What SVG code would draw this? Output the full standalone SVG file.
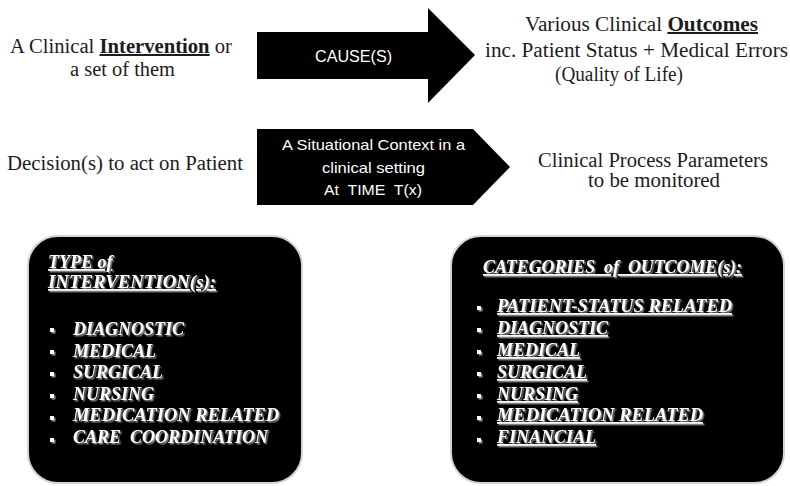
<svg xmlns="http://www.w3.org/2000/svg" width="790" height="486" viewBox="0 0 790 486">
  <defs>
    <filter id="glow" x="-5%" y="-20%" width="115%" height="160%">
      <feDropShadow dx="1.5" dy="1.5" stdDeviation="0.6" flood-color="#8a8a8a" flood-opacity="1"/>
    </filter>
    <filter id="soft" x="-5%" y="-5%" width="110%" height="110%">
      <feGaussianBlur stdDeviation="0.4"/>
    </filter>
  </defs>
  <style>
    .serif { font-size: 20px; fill: #1c1c1c; }
    .sans { fill: #ffffff; }
    .shape { fill: #000000; }
    .panel { fill: #000000; stroke: #d4d4d4; stroke-width: 2; }
    .item { font-size: 18px; font-weight: bold; font-style: italic; fill: #ffffff; }
    .ul { text-decoration: underline; }
    .dot { fill: #ffffff; }
  </style>
  <rect width="790" height="486" fill="#ffffff"/>

  <g font-family="'Liberation Serif', 'DejaVu Serif', serif">
    <!-- row 1: intervention -> outcomes -->
    <g id="intervention">
      <text class="serif" x="121" y="53" text-anchor="middle" textLength="222" lengthAdjust="spacingAndGlyphs">A Clinical <tspan font-weight="bold" class="ul">Intervention</tspan> or</text>
      <text class="serif" x="122.5" y="76" text-anchor="middle" textLength="105" lengthAdjust="spacingAndGlyphs">a set of them</text>
    </g>

    <g id="outcomes">
      <text class="serif" x="641.5" y="31" text-anchor="middle" textLength="233" lengthAdjust="spacingAndGlyphs">Various Clinical <tspan font-weight="bold" class="ul">Outcomes</tspan></text>
      <text class="serif" x="636.5" y="57" text-anchor="middle" textLength="303" lengthAdjust="spacingAndGlyphs">inc. Patient Status + Medical Errors</text>
      <text class="serif" x="619" y="81" text-anchor="middle" textLength="128" lengthAdjust="spacingAndGlyphs">(Quality of Life)</text>
    </g>

    <!-- row 2: decision -> process parameters -->
    <g id="decision">
      <text class="serif" x="125" y="170" text-anchor="middle" textLength="236" lengthAdjust="spacingAndGlyphs">Decision(s) to act on Patient</text>
    </g>

    <g id="parameters">
      <text class="serif" x="653" y="167" text-anchor="middle" textLength="230" lengthAdjust="spacingAndGlyphs">Clinical Process Parameters</text>
      <text class="serif" x="654" y="187" text-anchor="middle" textLength="132" lengthAdjust="spacingAndGlyphs">to be monitored</text>
    </g>
  </g>

  <g id="connectors" font-family="'Liberation Sans', Arial, sans-serif">
    <g id="cause-arrow">
      <polygon class="shape" points="257,32 428,32 428,8 475,55 428,103 428,79 257,79"/>
      <text class="sans" x="353.5" y="62" font-size="17" text-anchor="middle" textLength="77" lengthAdjust="spacingAndGlyphs">CAUSE(S)</text>
    </g>
    <g id="context-arrow">
      <polygon class="shape" points="257,129 473,129 510,167 473,205 257,205"/>
      <text class="sans" x="373.5" y="150" font-size="14.5" text-anchor="middle" textLength="183" lengthAdjust="spacingAndGlyphs">A Situational Context in a</text>
      <text class="sans" x="373.5" y="173" font-size="14.5" text-anchor="middle" textLength="103" lengthAdjust="spacingAndGlyphs">clinical setting</text>
      <text class="sans" x="373" y="195" font-size="14.5" text-anchor="middle" textLength="98" lengthAdjust="spacingAndGlyphs" xml:space="preserve">At  TIME  T(x)</text>
    </g>
  </g>

  <!-- bottom panels -->
  <g font-family="'Liberation Serif', 'DejaVu Serif', serif">
    <g id="intervention-types">
      <rect class="panel" x="28" y="236" width="274" height="247" rx="30" ry="30" filter="url(#soft)"/>
      <g filter="url(#glow)">
        <text class="item ul" x="48" y="268">TYPE of</text>
        <text class="item ul" x="48" y="288" textLength="168" lengthAdjust="spacingAndGlyphs">INTERVENTION(s):</text>
        <rect class="dot" x="50" y="328" width="4" height="4"/>
        <rect class="dot" x="50" y="350" width="4" height="4"/>
        <rect class="dot" x="50" y="372" width="4" height="4"/>
        <rect class="dot" x="50" y="394" width="4" height="4"/>
        <rect class="dot" x="50" y="416" width="4" height="4"/>
        <rect class="dot" x="50" y="438" width="4" height="4"/>
        <text class="item" x="73" y="335">DIAGNOSTIC</text>
        <text class="item" x="73" y="357">MEDICAL</text>
        <text class="item" x="73" y="378">SURGICAL</text>
        <text class="item" x="73" y="400">NURSING</text>
        <text class="item" x="73" y="421" textLength="206" lengthAdjust="spacingAndGlyphs">MEDICATION RELATED</text>
        <text class="item" x="73" y="443" xml:space="preserve">CARE  COORDINATION</text>
      </g>
    </g>

    <g id="outcome-categories">
      <rect class="panel" x="451" y="236" width="333" height="247" rx="30" ry="30" filter="url(#soft)"/>
      <g filter="url(#glow)">
        <text class="item ul" x="483" y="273" textLength="259" lengthAdjust="spacingAndGlyphs" xml:space="preserve">CATEGORIES  of  OUTCOME(s):</text>
        <rect class="dot" x="477" y="306" width="4" height="4"/>
        <rect class="dot" x="477" y="328" width="4" height="4"/>
        <rect class="dot" x="477" y="350" width="4" height="4"/>
        <rect class="dot" x="477" y="372" width="4" height="4"/>
        <rect class="dot" x="477" y="394" width="4" height="4"/>
        <rect class="dot" x="477" y="416" width="4" height="4"/>
        <rect class="dot" x="477" y="438" width="4" height="4"/>
        <text class="item ul" x="497" y="312" textLength="235" lengthAdjust="spacingAndGlyphs">PATIENT-STATUS RELATED</text>
        <text class="item ul" x="497" y="334">DIAGNOSTIC</text>
        <text class="item ul" x="497" y="356">MEDICAL</text>
        <text class="item ul" x="497" y="378">SURGICAL</text>
        <text class="item ul" x="497" y="400">NURSING</text>
        <text class="item ul" x="497" y="421" textLength="206" lengthAdjust="spacingAndGlyphs">MEDICATION RELATED</text>
        <text class="item ul" x="497" y="443">FINANCIAL</text>
      </g>
    </g>
  </g>
</svg>
